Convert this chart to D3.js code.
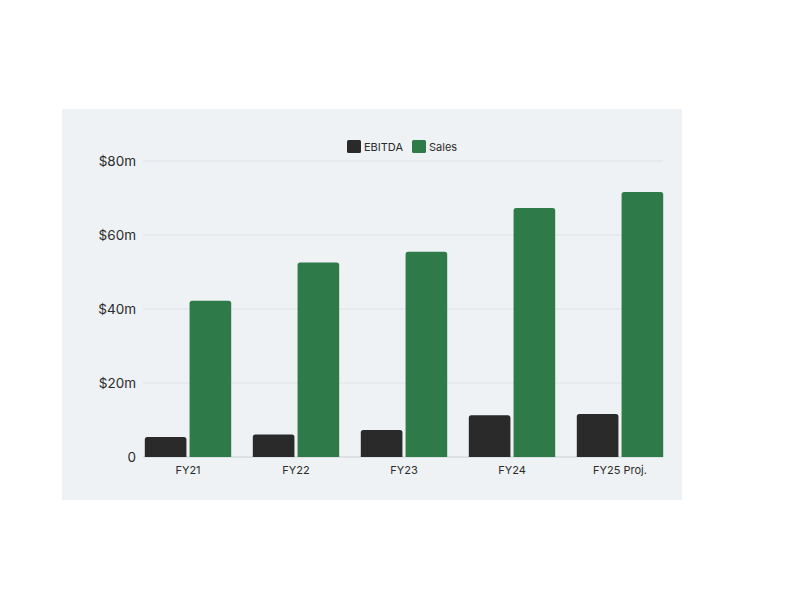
<!DOCTYPE html>
<html>
<head>
<meta charset="utf-8">
<script src="https://cdn.jsdelivr.net/npm/d3@7"></script>
<style>
  html, body { margin: 0; padding: 0; background: #ffffff; }
  svg { display: block; font-family: "Inter", "Noto Sans", sans-serif; }
</style>
</head>
<body>
<svg id="chart" width="800" height="600"></svg>
<script>
const categories = ["FY21", "FY22", "FY23", "FY24", "FY25 Proj."];
const seriesNames = ["EBITDA", "Sales"];
const ebitda = [5.4, 6.1, 7.3, 11.3, 11.6];
const sales = [42.2, 52.6, 55.5, 67.3, 71.6];
const yTicks = [0, 20, 40, 60, 80];
const colors = ["#2a2a2a", "#2e7a48"];

const svg = d3.select("#chart");

// panel background
svg.append("rect")
  .attr("x", 62).attr("y", 109).attr("width", 620).attr("height", 391)
  .attr("fill", "#eff2f4");

const y = d3.scaleLinear().domain([0, 80]).range([457, 161]);
const x0 = d3.scaleBand().domain(categories).range([134, 674]).paddingInner(0.2).paddingOuter(0.1);
const x1 = d3.scaleBand().domain(seriesNames).range([0, x0.bandwidth()]).paddingInner(0.07);
const color = d3.scaleOrdinal().domain(seriesNames).range(colors);

const plotLeft = 143, plotRight = 663;

// gridlines
svg.append("g").selectAll("line").data(yTicks).join("line")
  .attr("x1", plotLeft).attr("x2", plotRight)
  .attr("y1", d => y(d)).attr("y2", d => y(d))
  .attr("stroke", d => d === 0 ? "#c9cfd3" : "#dde2e6")
  .attr("stroke-width", 1);

// y axis
const yAxis = d3.axisLeft(y).tickValues(yTicks)
  .tickFormat(d => d === 0 ? "0" : "$" + d + "m").tickSize(0).tickPadding(0);
svg.append("g").attr("transform", "translate(136,0)").call(yAxis)
  .call(g => g.select(".domain").remove())
  .call(g => g.selectAll("text").attr("fill", "#2b2b2b").attr("font-size", 13.5).attr("font-family", "Inter, sans-serif"));

// x axis
const xAxis = d3.axisBottom(x0).tickSize(0).tickPadding(9);
svg.append("g").attr("transform", "translate(0,457)").call(xAxis)
  .call(g => g.select(".domain").remove())
  .call(g => g.selectAll("text").attr("fill", "#2b2b2b").attr("font-size", 11).attr("font-family", "Inter, sans-serif"));

// bars
const rows = categories.map((c, i) => ({ cat: c, values: [
  { key: "EBITDA", value: ebitda[i] },
  { key: "Sales", value: sales[i] }
]}));

const groups = svg.append("g").selectAll("g").data(rows).join("g")
  .attr("transform", d => `translate(${x0(d.cat)},0)`);

function topRounded(x, yTop, w, h, r) {
  return `M${x},${yTop + h}V${yTop + r}Q${x},${yTop} ${x + r},${yTop}H${x + w - r}Q${x + w},${yTop} ${x + w},${yTop + r}V${yTop + h}Z`;
}

groups.selectAll("path").data(d => d.values).join("path")
  .attr("d", d => topRounded(x1(d.key), y(d.value), x1.bandwidth(), y(0) - y(d.value), 2.5))
  .attr("fill", d => color(d.key));

// legend
const legend = svg.append("g");
const legendItems = [
  { key: "EBITDA", x: 347 },
  { key: "Sales", x: 412 }
];
legendItems.forEach(item => {
  legend.append("rect").attr("x", item.x).attr("y", 140).attr("width", 14).attr("height", 13)
    .attr("rx", 1.5).attr("fill", color(item.key));
  legend.append("text").attr("x", item.x + 17).attr("y", 150.5)
    .attr("font-size", 11).attr("fill", "#2b2b2b").attr("font-family", "Inter, sans-serif")
    .text(item.key);
});
</script>
</body>
</html>
